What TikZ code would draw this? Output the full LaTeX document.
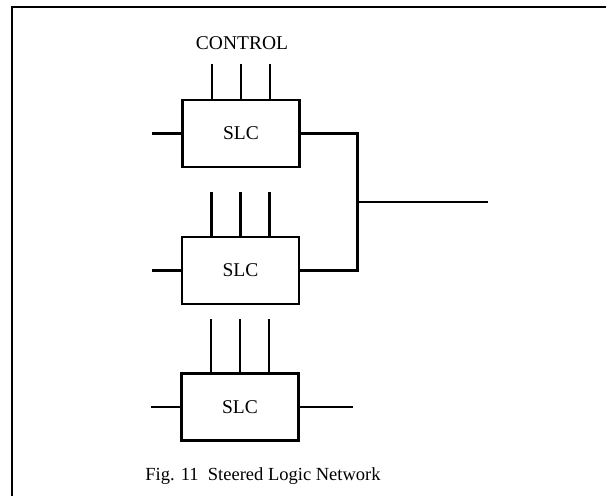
\documentclass[tikz,border=0pt]{standalone}
\usepackage{fontspec}
\setmainfont{Liberation Serif}
\usetikzlibrary{positioning}

\tikzset{
  slc/.style = {draw, line width=2.8pt, minimum width=117pt, minimum height=67pt,
                inner sep=0pt, font=\fontsize{19.5}{19.5}\selectfont},
  wire/.style = {line width=2.2pt},
}

\begin{document}
\begin{tikzpicture}[x=1pt, y=-1pt]
  \useasboundingbox (0,0) rectangle (606,496);
  % frame, cut off at the right and the bottom
  \draw[line width=2.2pt] (12,496) -- (12,7) -- (606,7);

  % the three steered logic cells
  \node[slc] (s1) at (241,133.5) {SLC};
  \node[slc] (s2) at (240.5,270.5) {SLC};
  \node[slc] (s3) at (240,407) {SLC};

  \node[font=\fontsize{19.5}{19.5}\selectfont] (ctl) at (242,43) {CONTROL};

  % control inputs on top of each cell
  \foreach \n/\len in {1/35, 2/44, 3/53} {
    \foreach \dx [count=\k] in {-29,0,29} {
      \coordinate (c\n\k) at ([xshift=\dx pt, yshift=\len pt]s\n.north);
      \draw[wire] (c\n\k) -- ([xshift=\dx pt]s\n.north);
    }
    \coordinate (in\n) at ([xshift=-29pt]s\n.west);
    \draw[wire] (in\n) -- (s\n.west);
  }

  % outputs of the first two cells joined together
  \coordinate (j) at (357.5,202);
  \coordinate (out) at (488,202);
  \draw[wire] (s1.east) -| (j) |- (s2.east);
  \draw[wire] (j) -- (out);

  \coordinate (out3) at (353,407);
  \draw[wire] (s3.east) -- (out3);

  \node[font=\fontsize{18.5}{18.5}\selectfont] (cap) at (263,476) {Fig. 11\ \ Steered Logic Network};
\end{tikzpicture}
\end{document}
